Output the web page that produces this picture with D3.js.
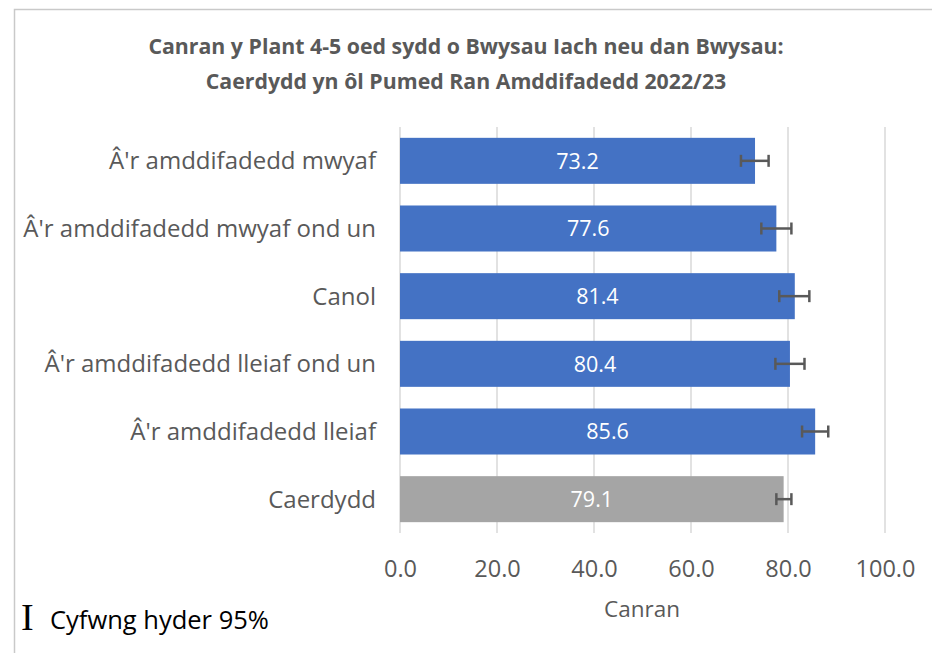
<!DOCTYPE html>
<html>
<script src='https://cdn.jsdelivr.net/npm/d3@7'></script>
<style>
 body {margin:0; background:#fff;}
 text {font-family: 'Open Sans', sans-serif;}
</style>
<body onload='init()'>
<svg width=932 height=653>
</svg>
<script>

// chart data
var categories = ["Â'r amddifadedd mwyaf", "Â'r amddifadedd mwyaf ond un", "Canol",
 "Â'r amddifadedd lleiaf ond un", "Â'r amddifadedd lleiaf", "Caerdydd"];
var values = [73.2, 77.6, 81.4, 80.4, 85.6, 79.1];
var ciLow = [70.3, 74.5, 78.2, 77.4, 82.9, 77.6];
var ciHigh = [76.0, 80.7, 84.4, 83.4, 88.3, 80.7];
var xTicks = [0, 20, 40, 60, 80, 100];
var titleLines = ["Canran y Plant 4-5 oed sydd o Bwysau Iach neu dan Bwysau:",
 "Caerdydd yn ôl Pumed Ran Amddifadedd 2022/23"];

function init() {

 var svg = d3.select('svg');

 // outer frame
 svg.append('path')
  .attr('d', 'M14.5,653 V9.5 H932')
  .attr('fill', 'none')
  .attr('stroke', '#c9c9c9')
  .attr('stroke-width', 1.5);

 var x = d3.scaleLinear().domain([0, 100]).range([400, 885]);
 var y = d3.scaleBand().domain(categories).range([127, 533]).paddingInner(0.32).paddingOuter(0.16);

 // gridlines
 svg.append('g')
  .selectAll('line')
  .data(xTicks)
  .enter()
   .append('line')
    .attr('x1', function (d) { return x(d); })
    .attr('x2', function (d) { return x(d); })
    .attr('y1', 127)
    .attr('y2', 533)
    .attr('stroke', '#d9d9d9')
    .attr('stroke-width', 1.5);

 // bars
 svg.append('g')
  .selectAll('rect')
  .data(values)
  .enter()
   .append('rect')
    .attr('x', x(0))
    .attr('y', function (d, i) { return y(categories[i]); })
    .attr('width', function (d) { return x(d) - x(0); })
    .attr('height', y.bandwidth())
    .attr('fill', function (d, i) { return i == 5 ? '#a5a5a5' : '#4472c4'; });

 // value labels
 svg.append('g')
  .selectAll('text')
  .data(values)
  .enter()
   .append('text')
    .attr('x', function (d) { return (x(d) + x(0)) / 2; })
    .attr('y', function (d, i) { return y(categories[i]) + y.bandwidth() / 2; })
    .attr('dy', '0.36em')
    .attr('text-anchor', 'middle')
    .attr('fill', '#fff')
    .style('font-size', '21.5px')
    .text(function (d) { return d.toFixed(1); });

 // error bars
 var eb = svg.append('g').attr('stroke', '#595959').attr('stroke-width', 2.5);
 values.forEach(function (d, i) {
  var cy = y(categories[i]) + y.bandwidth() / 2;
  eb.append('line').attr('x1', x(ciLow[i])).attr('x2', x(ciHigh[i])).attr('y1', cy).attr('y2', cy);
  eb.append('line').attr('x1', x(ciLow[i])).attr('x2', x(ciLow[i])).attr('y1', cy - 6).attr('y2', cy + 6);
  eb.append('line').attr('x1', x(ciHigh[i])).attr('x2', x(ciHigh[i])).attr('y1', cy - 6).attr('y2', cy + 6);
 });

 // category axis
 svg.append('g')
  .selectAll('text')
  .data(categories)
  .enter()
   .append('text')
    .attr('x', 376)
    .attr('y', function (d) { return y(d) + y.bandwidth() / 2; })
    .attr('dy', '0.36em')
    .attr('text-anchor', 'end')
    .attr('fill', '#595959')
    .style('font-size', '24px')
    .text(function (d) { return d; });

 // value axis
 svg.append('g')
  .attr('transform', 'translate(0,533)')
  .call(d3.axisBottom(x).tickValues(xTicks).tickFormat(d3.format('.1f')).tickSize(0).tickPadding(27))
  .call(function (g) { g.select('.domain').remove(); })
  .selectAll('text')
   .attr('fill', '#595959')
   .style('font-size', '23.5px')
   .style('font-family', "'Open Sans', sans-serif");

 svg.append('text')
  .attr('x', 642).attr('y', 617)
  .attr('text-anchor', 'middle')
  .attr('fill', '#595959')
  .style('font-size', '22.5px')
  .text('Canran');

 // title
 svg.append('g')
  .selectAll('text')
  .data(titleLines)
  .enter()
   .append('text')
    .attr('x', 466)
    .attr('y', function (d, i) { return 54 + i * 35; })
    .attr('text-anchor', 'middle')
    .attr('fill', '#595959')
    .style('font-size', '21.3px')
    .style('font-weight', 'bold')
    .text(function (d) { return d; });

 // legend
 svg.append('text')
  .attr('x', 21).attr('y', 630)
  .style('font-family', "'Liberation Serif', serif")
  .style('font-size', '38px')
  .text('I');
 svg.append('text')
  .attr('x', 50).attr('y', 629)
  .style('font-size', '25.5px')
  .text('Cyfwng hyder 95%');
}

</script>
</body>
</html>
